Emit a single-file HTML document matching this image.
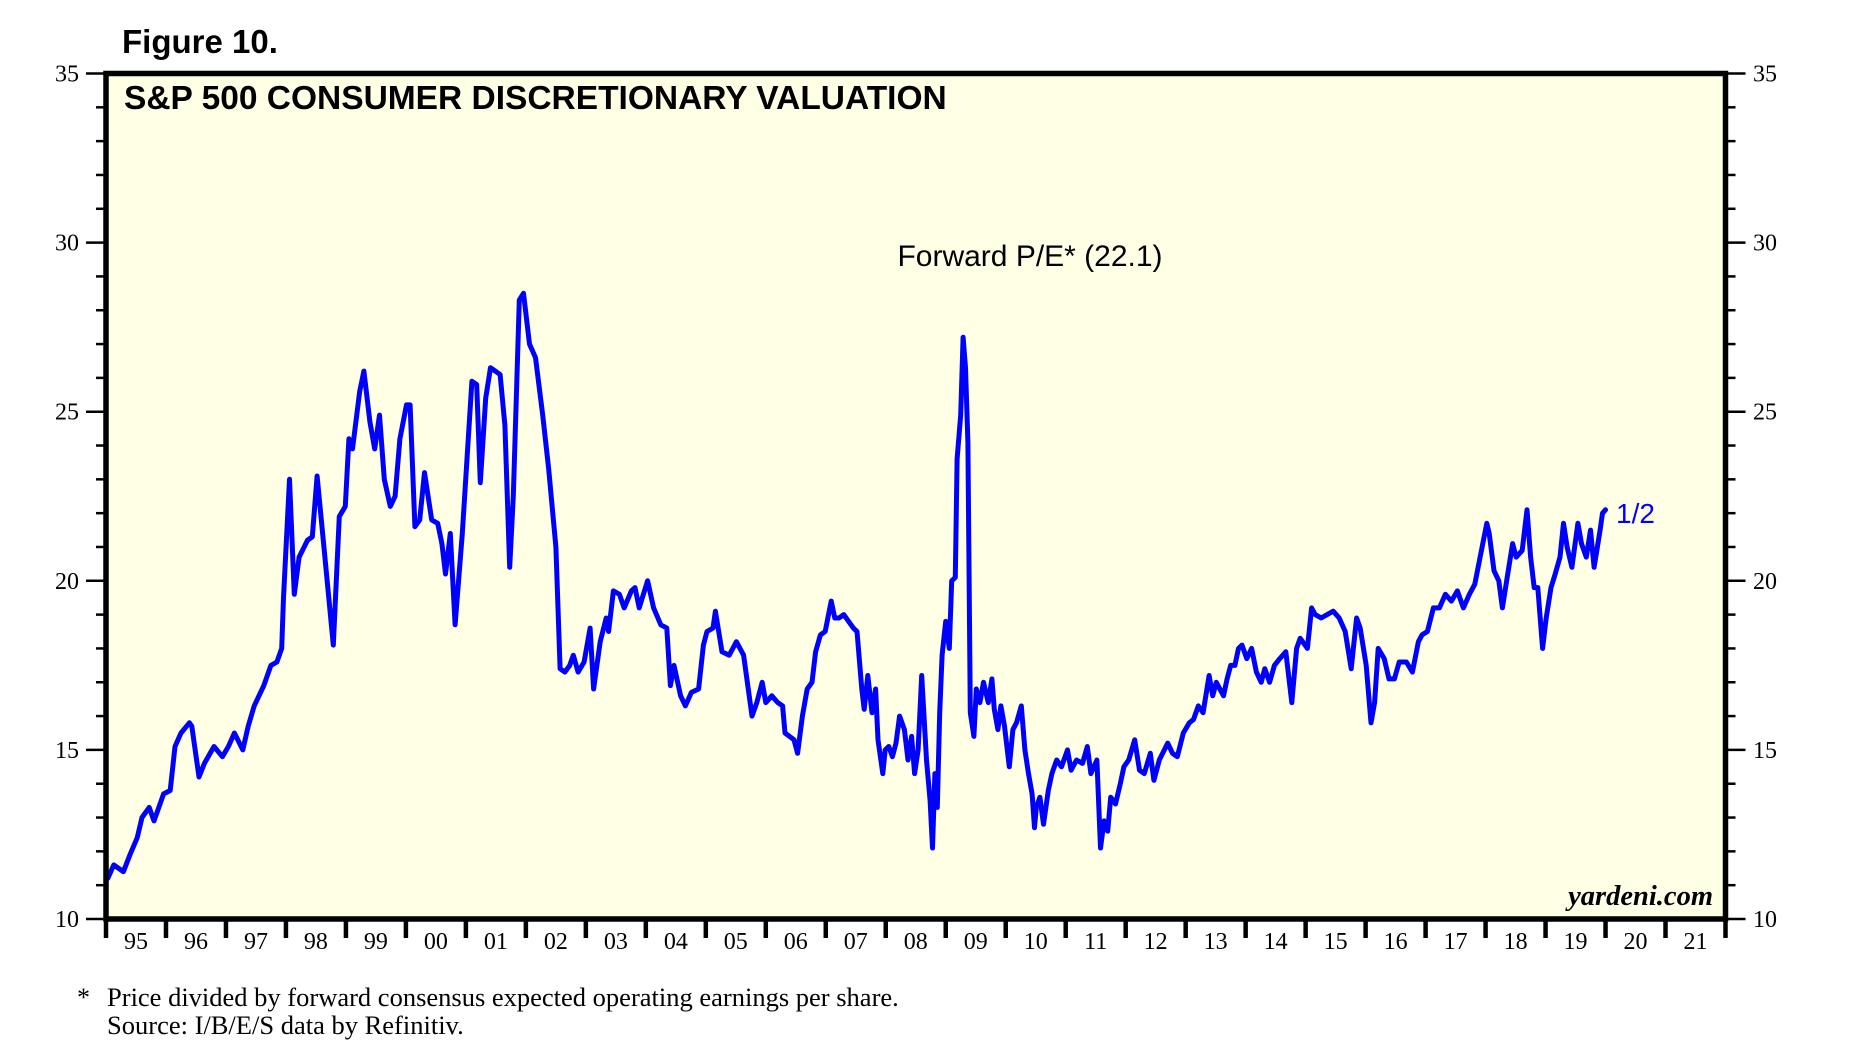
<!DOCTYPE html>
<html><head><meta charset="utf-8">
<style>
html,body{margin:0;padding:0;background:#fff;}
svg{display:block;}
</style></head>
<body>
<svg id="chart" xmlns="http://www.w3.org/2000/svg" width="1851" height="1056" viewBox="0 0 1851 1056">
  <text x="122" y="53" font-family="Liberation Sans, sans-serif" font-weight="bold" font-size="33" fill="#000">Figure 10.</text>
  <rect x="106" y="73.5" width="1619.5" height="845.5" fill="#FFFFE6"/>
  <g id="yticks"></g>
  <g id="xticks"></g>
  <polyline id="series" fill="none" stroke="#0000FF" stroke-width="5" stroke-linejoin="round" stroke-linecap="round"/>
  <rect x="106" y="73.5" width="1619.5" height="845.5" fill="none" stroke="#000" stroke-width="5.5"/>
  <text x="124" y="109" font-family="Liberation Sans, sans-serif" font-weight="bold" font-size="33.5" fill="#000">S&amp;P 500 CONSUMER DISCRETIONARY VALUATION</text>
  <text x="1030" y="266" text-anchor="middle" font-family="Liberation Sans, sans-serif" font-size="30" fill="#000">Forward P/E* (22.1)</text>
  <text x="1616" y="523" font-family="Liberation Sans, sans-serif" font-size="28" fill="#0000FF">1/2</text>
  <text x="1713" y="905" text-anchor="end" font-family="Liberation Serif, serif" font-style="italic" font-weight="bold" font-size="28.5" fill="#000">yardeni.com</text>
  <text x="77" y="1006" font-family="Liberation Serif, serif" font-size="26" fill="#000">*</text>
  <text x="107" y="1006" font-family="Liberation Serif, serif" font-size="26.5" fill="#000">Price divided by forward consensus expected operating earnings per share.</text>
  <text x="107" y="1034" font-family="Liberation Serif, serif" font-size="26.5" fill="#000">Source: I/B/E/S data by Refinitiv.</text>
</svg>
<script>
const yearLabels = ["95","96","97","98","99","00","01","02","03","04","05","06","07","08","09","10","11","12","13","14","15","16","17","18","19","20","21"];
const yTickValues = [10,15,20,25,30,35];
const dates = [1995.03,1995.13,1995.29,1995.40,1995.52,1995.60,1995.72,1995.80,1995.96,1996.07,1996.15,1996.25,1996.39,1996.43,1996.55,1996.64,1996.80,1996.94,1997.04,1997.14,1997.28,1997.37,1997.47,1997.63,1997.75,1997.85,1997.93,1997.96,1998.06,1998.14,1998.22,1998.36,1998.44,1998.52,1998.65,1998.79,1998.89,1998.99,1999.05,1999.11,1999.23,1999.30,1999.40,1999.48,1999.56,1999.64,1999.74,1999.82,1999.90,2000.01,2000.07,2000.15,2000.23,2000.31,2000.43,2000.53,2000.60,2000.66,2000.74,2000.82,2000.94,2001.10,2001.18,2001.24,2001.33,2001.41,2001.57,2001.65,2001.73,2001.79,2001.89,2001.96,2002.06,2002.16,2002.28,2002.38,2002.50,2002.57,2002.65,2002.73,2002.79,2002.87,2002.97,2003.07,2003.13,2003.24,2003.34,2003.38,2003.46,2003.56,2003.64,2003.76,2003.82,2003.89,2004.03,2004.13,2004.25,2004.35,2004.41,2004.47,2004.58,2004.66,2004.76,2004.88,2004.96,2005.02,2005.12,2005.16,2005.27,2005.39,2005.51,2005.63,2005.77,2005.85,2005.94,2006.00,2006.10,2006.20,2006.28,2006.32,2006.47,2006.53,2006.61,2006.69,2006.77,2006.83,2006.91,2006.99,2007.09,2007.15,2007.22,2007.30,2007.38,2007.46,2007.52,2007.60,2007.64,2007.70,2007.77,2007.83,2007.87,2007.95,2007.99,2008.05,2008.11,2008.17,2008.23,2008.31,2008.37,2008.43,2008.48,2008.54,2008.60,2008.68,2008.74,2008.78,2008.82,2008.86,2008.90,2008.94,2009.00,2009.06,2009.10,2009.16,2009.19,2009.25,2009.29,2009.33,2009.37,2009.41,2009.47,2009.51,2009.57,2009.63,2009.71,2009.77,2009.81,2009.87,2009.92,2009.98,2010.06,2010.12,2010.18,2010.26,2010.32,2010.38,2010.44,2010.48,2010.51,2010.57,2010.63,2010.71,2010.77,2010.85,2010.93,2011.03,2011.09,2011.18,2011.28,2011.36,2011.42,2011.52,2011.58,2011.64,2011.70,2011.75,2011.83,2011.91,2011.97,2012.05,2012.15,2012.23,2012.31,2012.41,2012.47,2012.56,2012.70,2012.78,2012.86,2012.96,2013.06,2013.13,2013.21,2013.29,2013.39,2013.45,2013.51,2013.63,2013.69,2013.75,2013.82,2013.88,2013.94,2014.02,2014.10,2014.18,2014.26,2014.32,2014.40,2014.48,2014.57,2014.67,2014.77,2014.85,2014.91,2015.03,2015.10,2015.16,2015.26,2015.36,2015.46,2015.56,2015.66,2015.76,2015.85,2015.91,2016.01,2016.09,2016.15,2016.21,2016.31,2016.39,2016.48,2016.56,2016.68,2016.78,2016.88,2016.94,2017.03,2017.13,2017.23,2017.33,2017.43,2017.53,2017.63,2017.73,2017.82,2017.92,2018.02,2018.06,2018.14,2018.22,2018.28,2018.36,2018.45,2018.51,2018.61,2018.69,2018.75,2018.81,2018.87,2018.95,2019.01,2019.09,2019.16,2019.24,2019.30,2019.36,2019.44,2019.54,2019.60,2019.68,2019.75,2019.81,2019.91,2019.95,2020.00];
const peValues = [11.2,11.6,11.4,11.9,12.4,13.0,13.3,12.9,13.7,13.8,15.1,15.5,15.8,15.7,14.2,14.6,15.1,14.8,15.1,15.5,15.0,15.7,16.3,16.9,17.5,17.6,18.0,19.5,23.0,19.6,20.7,21.2,21.3,23.1,20.7,18.1,21.9,22.2,24.2,23.9,25.6,26.2,24.7,23.9,24.9,23.0,22.2,22.5,24.2,25.2,25.2,21.6,21.8,23.2,21.8,21.7,21.1,20.2,21.4,18.7,21.4,25.9,25.8,22.9,25.4,26.3,26.1,24.6,20.4,22.5,28.3,28.5,27.0,26.6,24.9,23.3,21.0,17.4,17.3,17.5,17.8,17.3,17.6,18.6,16.8,18.2,18.9,18.5,19.7,19.6,19.2,19.7,19.8,19.2,20.0,19.2,18.7,18.6,16.9,17.5,16.6,16.3,16.7,16.8,18.1,18.5,18.6,19.1,17.9,17.8,18.2,17.8,16.0,16.4,17.0,16.4,16.6,16.4,16.3,15.5,15.3,14.9,16.0,16.8,17.0,17.9,18.4,18.5,19.4,18.9,18.9,19.0,18.8,18.6,18.5,16.8,16.2,17.2,16.1,16.8,15.3,14.3,15.0,15.1,14.8,15.2,16.0,15.6,14.7,15.4,14.3,15.0,17.2,14.7,13.5,12.1,14.3,13.3,16.1,17.8,18.8,18.0,20.0,20.1,23.6,24.9,27.2,26.3,24.1,16.1,15.4,16.8,16.4,17.0,16.4,17.1,16.2,15.6,16.3,15.7,14.5,15.6,15.8,16.3,15.0,14.3,13.7,12.7,13.3,13.6,12.8,13.8,14.3,14.7,14.5,15.0,14.4,14.7,14.6,15.1,14.3,14.7,12.1,12.9,12.6,13.6,13.4,14.0,14.5,14.7,15.3,14.4,14.3,14.9,14.1,14.7,15.2,14.9,14.8,15.5,15.8,15.9,16.3,16.1,17.2,16.6,17.0,16.6,17.1,17.5,17.5,18.0,18.1,17.7,18.0,17.3,17.0,17.4,17.0,17.5,17.7,17.9,16.4,18.0,18.3,18.0,19.2,19.0,18.9,19.0,19.1,18.9,18.5,17.4,18.9,18.6,17.5,15.8,16.4,18.0,17.7,17.1,17.1,17.6,17.6,17.3,18.2,18.4,18.5,19.2,19.2,19.6,19.4,19.7,19.2,19.6,19.9,20.8,21.7,21.4,20.3,20.0,19.2,20.1,21.1,20.7,20.9,22.1,20.7,19.8,19.8,18.0,18.9,19.8,20.2,20.7,21.7,21.0,20.4,21.7,21.1,20.7,21.5,20.4,21.5,22.0,22.1];

const NS = "http://www.w3.org/2000/svg";
const X0 = 106, X1 = 1725.5, Y0 = 919, Y1 = 73.5;
const T0 = 1995, T1 = 2022, V0 = 10, V1 = 35;
function xScale(t){ return X0 + (t - T0) / (T1 - T0) * (X1 - X0); }
function yScale(v){ return Y0 - (v - V0) / (V1 - V0) * (Y0 - Y1); }
function mk(tag, attrs){ const e = document.createElementNS(NS, tag); for (const k in attrs) e.setAttribute(k, attrs[k]); return e; }

const yg = document.getElementById('yticks');
for (let v = V0; v <= V1; v++) {
  const major = yTickValues.includes(v);
  const y = yScale(v);
  const l = mk('line', {x1: X0 - (major ? 20 : 10), x2: X0, y1: y, y2: y, stroke: '#000', 'stroke-width': 2.5});
  
  
  yg.appendChild(l);
  const r = mk('line', {x1: X1, x2: X1 + (major ? 20 : 10), y1: y, y2: y, stroke: '#000', 'stroke-width': 2.5});
  
  
  yg.appendChild(r);
  if (major) {
    const tl = mk('text', {x: 79, y: y + 8, 'text-anchor': 'end', 'font-family': 'Liberation Serif, serif', 'font-size': 24, fill: '#000'});
    tl.textContent = v;
    
    
    yg.appendChild(tl);
    const tr = mk('text', {x: 1753, y: y + 8, 'font-family': 'Liberation Serif, serif', 'font-size': 24, fill: '#000'});
    tr.textContent = v;
    
    
    yg.appendChild(tr);
  }
}

const xg = document.getElementById('xticks');
for (let i = 0; i <= yearLabels.length; i++) {
  const x = xScale(T0 + i);
  const t = mk('line', {x1: x, x2: x, y1: Y0, y2: 938, stroke: '#000', 'stroke-width': 4.5});
  
  
  xg.appendChild(t);
}
yearLabels.forEach((lab, i) => {
  const x = xScale(T0 + i + 0.5);
  const t = mk('text', {x: x, y: 949, 'text-anchor': 'middle', 'font-family': 'Liberation Serif, serif', 'font-size': 24, fill: '#000'});
  t.textContent = lab;
  
  
  xg.appendChild(t);
});

const pts = dates.map((d, i) => xScale(d).toFixed(1) + ',' + yScale(peValues[i]).toFixed(1)).join(' ');
document.getElementById('series').setAttribute('points', pts);
</script>
</body></html>
